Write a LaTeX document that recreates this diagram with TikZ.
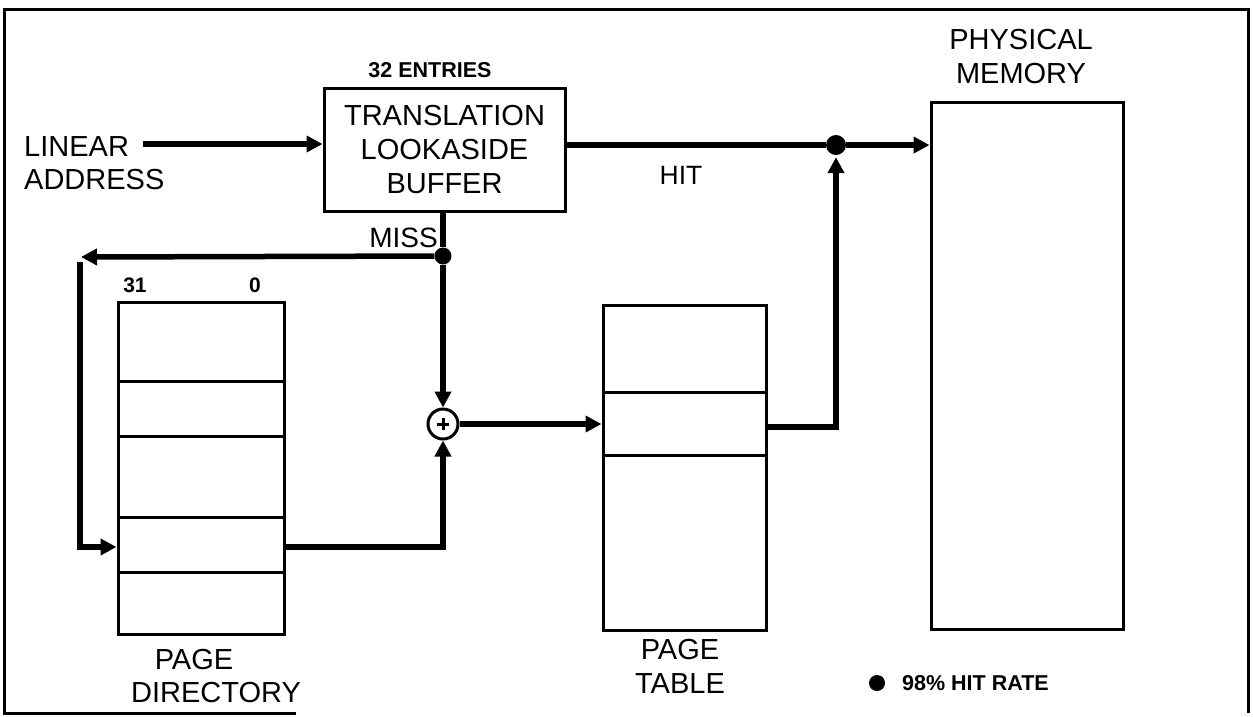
\documentclass[tikz,border=0pt]{standalone}
\usepackage{fontspec}
\setmainfont{Liberation Sans}
\usetikzlibrary{arrows.meta}
\begin{document}
\begin{tikzpicture}[x=1pt,y=-1pt,
  big/.style={font=\fontsize{29}{34}\selectfont, align=center, inner sep=0pt},
  small/.style={font=\fontsize{21.5}{25}\selectfont\bfseries, inner sep=0pt},
  box/.style={draw, line width=3pt},
  rowline/.style={line width=3pt},
  bus/.style={line width=5.5pt},
  arr/.style={bus, -{Triangle[length=16pt,width=16pt]}},
  jdot/.style={circle, fill, inner sep=0pt, minimum size=#1},
]
\useasboundingbox (0,0) rectangle (1253,716);
% frame (bottom edge partly missing as in the scan)
\draw[line width=3pt] (296,713) -- (4,713) -- (4,9) -- (1248,9) -- (1248,713);

% TLB
\node[small] (entries) at (430,70) {32 ENTRIES};
\node[box, big, minimum width=241, minimum height=123] (tlb) at (444.5,149.5) {TRANSLATION\\LOOKASIDE\\BUFFER};
\node[big, font=\fontsize{29}{33}\selectfont, align=left, anchor=west] (la) at (24,163.5) {LINEAR\\ADDRESS};
\coordinate (laout) at (143,144);
\draw[arr] (laout) -- (laout -| tlb.west);

% physical memory
\node[big] (pmlabel) at (1021,56.5) {PHYSICAL\\MEMORY};
\node[box, minimum width=192, minimum height=527] (mem) at (1027,365.5) {};
\node[jdot=20pt] (hitdot) at (836,145) {};
\draw[bus] (tlb.east |- hitdot) -- (hitdot);
\draw[arr] (hitdot) -- (mem.west |- hitdot);
\node[big, font=\fontsize{26.5}{30}\selectfont] (hit) at (681,175) {HIT};

% miss path
\node[jdot=17pt] (missdot) at (443,256) {};
\node[big, font=\fontsize{28}{30}\selectfont, anchor=east] (miss) at (438,238) {MISS};
\draw[bus] (tlb.south -| missdot) -- (missdot);
\coordinate (ltip) at (81,257);
\coordinate (lcorner) at (80,262);
\draw[arr] (missdot) -- (ltip);

% page directory
\node[small, font=\fontsize{21}{24}\selectfont\bfseries] (b31) at (135,285) {31};
\node[small, font=\fontsize{21}{24}\selectfont\bfseries] (b0) at (255,285) {0};
\node[box, minimum width=166, minimum height=332] (pd) at (201,468) {};
\draw[rowline] (118,381) -- (284,381);
\draw[rowline] (118,436) -- (284,436);
\draw[rowline] (118,517) -- (284,517);
\draw[rowline] (118,572) -- (284,572);
\node[big] (pdl1) at (194,660) {PAGE};
\node[big] (pdl2) at (216,693) {DIRECTORY};
\coordinate (pdrow) at (0,547);
\draw[arr] (lcorner) |- (pd.west |- pdrow);

% adder
\node[circle, draw, line width=3pt, minimum size=30pt, inner sep=0pt] (sum) at (443,424) {};
\draw[line width=3pt] ([xshift=-6pt]sum.center) -- ([xshift=6pt]sum.center);
\draw[line width=3pt] ([yshift=-6pt]sum.center) -- ([yshift=6pt]sum.center);
\draw[arr] (missdot) -- (sum.north);
\draw[arr] (pd.east |- pdrow) -| (sum.south);

% page table
\node[box, minimum width=163, minimum height=325] (pt) at (684.5,467.5) {};
\draw[rowline] (603,392) -- (766,392);
\draw[rowline] (603,455) -- (766,455);
\node[big] (ptlabel) at (680,666.5) {PAGE\\TABLE};
\draw[arr] (sum.east) -- (sum.east -| pt.west);
\coordinate (ptrow) at (0,427);
\draw[arr] (pt.east |- ptrow) -| ([yshift=-2pt]hitdot.south);

% legend
\node[jdot=16pt] (ldot) at (877,683) {};
\node[small, anchor=west] (ltext) at (902,683) {98\% HIT RATE};
\end{tikzpicture}
\end{document}
